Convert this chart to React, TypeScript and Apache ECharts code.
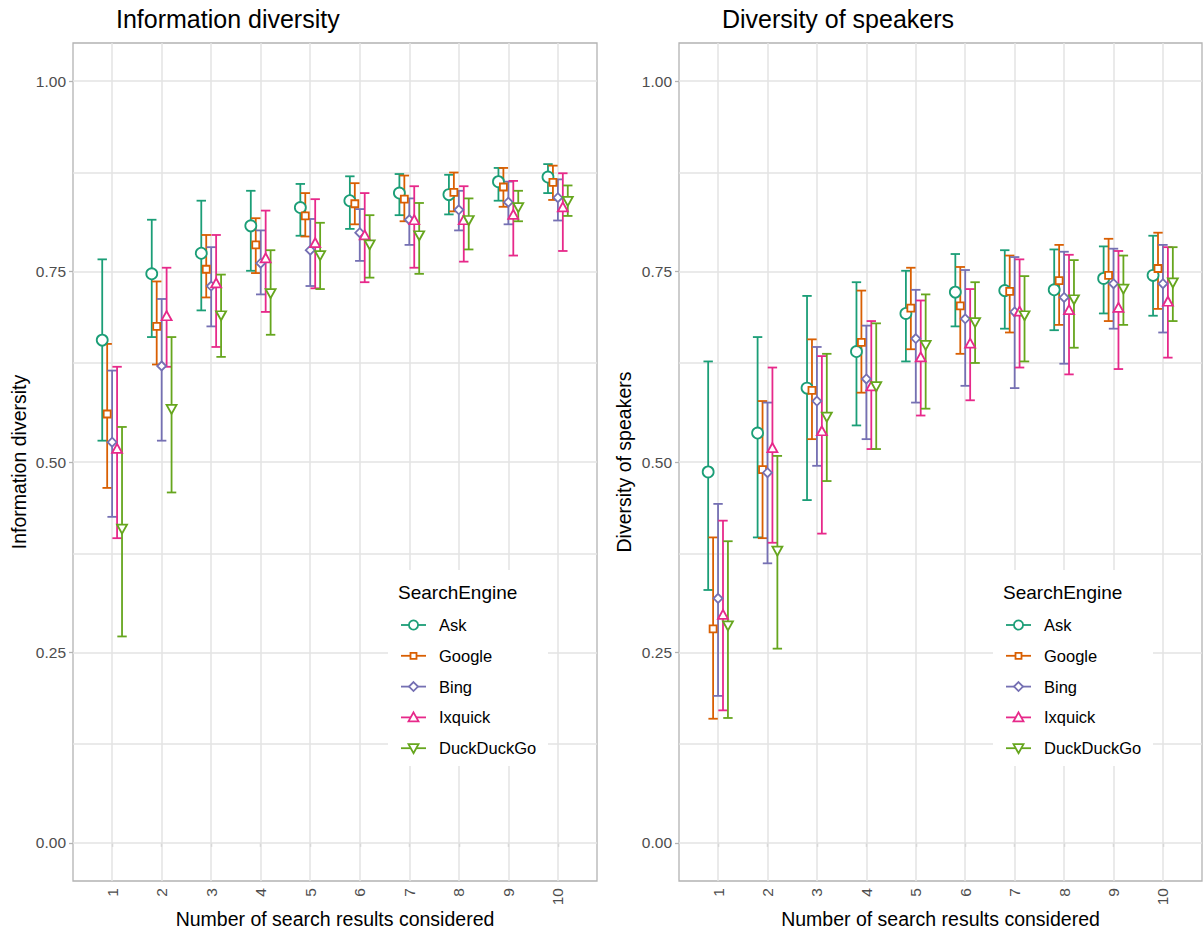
import React, { useEffect, useRef } from "react";
import * as echarts from "echarts";

// ---------- data ----------
const categories = [1, 2, 3, 4, 5, 6, 7, 8, 9, 10];
const engines = ["Ask", "Google", "Bing", "Ixquick", "DuckDuckGo"];
const engineColors = ["#1B9E77", "#D95F02", "#7570B3", "#E7298A", "#66A61E"];
const dodgeOffsets = [-0.2, -0.1, 0, 0.1, 0.2];
const yTicks = [0, 0.25, 0.5, 0.75, 1];
const yGridValues = [0, 0.125, 0.25, 0.375, 0.5, 0.625, 0.75, 0.875, 1];

const panelTitles = ["Information diversity", "Diversity of speakers"];
const xAxisTitle = "Number of search results considered";
const legendTitle = "SearchEngine";

// Information diversity
const infoAskMean = [0.660, 0.747, 0.774, 0.810, 0.834, 0.843, 0.853, 0.851, 0.868, 0.874];
const infoAskLow = [0.528, 0.664, 0.699, 0.751, 0.797, 0.806, 0.824, 0.825, 0.843, 0.853];
const infoAskHigh = [0.766, 0.818, 0.843, 0.856, 0.865, 0.875, 0.878, 0.877, 0.886, 0.891];

const infoGoogleMean = [0.563, 0.678, 0.753, 0.785, 0.823, 0.839, 0.845, 0.854, 0.861, 0.867];
const infoGoogleLow = [0.466, 0.628, 0.716, 0.748, 0.796, 0.812, 0.816, 0.829, 0.835, 0.844];
const infoGoogleHigh = [0.655, 0.737, 0.798, 0.820, 0.853, 0.866, 0.876, 0.880, 0.886, 0.889];

const infoBingMean = [0.526, 0.626, 0.731, 0.761, 0.778, 0.801, 0.818, 0.831, 0.841, 0.847];
const infoBingLow = [0.428, 0.528, 0.678, 0.720, 0.731, 0.764, 0.785, 0.804, 0.812, 0.817];
const infoBingHigh = [0.620, 0.714, 0.782, 0.804, 0.819, 0.832, 0.846, 0.856, 0.868, 0.871];

const infoIxquickMean = [0.518, 0.692, 0.735, 0.768, 0.788, 0.798, 0.818, 0.818, 0.825, 0.835];
const infoIxquickLow = [0.400, 0.625, 0.651, 0.697, 0.728, 0.736, 0.755, 0.763, 0.771, 0.777];
const infoIxquickHigh = [0.625, 0.755, 0.798, 0.830, 0.845, 0.853, 0.862, 0.862, 0.869, 0.879];

const infoDdgMean = [0.412, 0.569, 0.692, 0.721, 0.771, 0.785, 0.797, 0.817, 0.834, 0.842];
const infoDdgLow = [0.271, 0.460, 0.638, 0.667, 0.727, 0.742, 0.747, 0.779, 0.816, 0.823];
const infoDdgHigh = [0.546, 0.664, 0.746, 0.778, 0.814, 0.824, 0.840, 0.846, 0.856, 0.863];

// Diversity of speakers
const spkAskMean = [0.487, 0.538, 0.597, 0.645, 0.695, 0.723, 0.725, 0.726, 0.741, 0.745];
const spkAskLow = [0.332, 0.401, 0.450, 0.548, 0.632, 0.678, 0.675, 0.673, 0.695, 0.692];
const spkAskHigh = [0.632, 0.664, 0.718, 0.736, 0.751, 0.773, 0.778, 0.779, 0.783, 0.797];

const spkGoogleMean = [0.281, 0.490, 0.594, 0.657, 0.702, 0.705, 0.724, 0.738, 0.745, 0.754];
const spkGoogleLow = [0.163, 0.400, 0.530, 0.591, 0.648, 0.642, 0.670, 0.680, 0.685, 0.701];
const spkGoogleHigh = [0.401, 0.580, 0.661, 0.725, 0.755, 0.756, 0.771, 0.785, 0.793, 0.801];

const spkBingMean = [0.321, 0.486, 0.580, 0.609, 0.662, 0.688, 0.697, 0.716, 0.734, 0.734];
const spkBingLow = [0.193, 0.367, 0.495, 0.530, 0.578, 0.600, 0.597, 0.629, 0.675, 0.670];
const spkBingHigh = [0.445, 0.578, 0.651, 0.679, 0.726, 0.752, 0.769, 0.776, 0.780, 0.785];

const spkIxquickMean = [0.300, 0.519, 0.541, 0.600, 0.638, 0.656, 0.698, 0.700, 0.703, 0.711];
const spkIxquickLow = [0.174, 0.394, 0.406, 0.517, 0.561, 0.581, 0.624, 0.615, 0.622, 0.637];
const spkIxquickHigh = [0.423, 0.624, 0.639, 0.685, 0.712, 0.727, 0.766, 0.772, 0.777, 0.782];

const spkDdgMean = [0.285, 0.383, 0.559, 0.599, 0.653, 0.683, 0.692, 0.713, 0.727, 0.735];
const spkDdgLow = [0.164, 0.255, 0.475, 0.517, 0.570, 0.630, 0.632, 0.650, 0.680, 0.685];
const spkDdgHigh = [0.396, 0.508, 0.642, 0.682, 0.720, 0.736, 0.744, 0.765, 0.771, 0.782];

const panelData = [
  [
    [infoAskMean, infoAskLow, infoAskHigh],
    [infoGoogleMean, infoGoogleLow, infoGoogleHigh],
    [infoBingMean, infoBingLow, infoBingHigh],
    [infoIxquickMean, infoIxquickLow, infoIxquickHigh],
    [infoDdgMean, infoDdgLow, infoDdgHigh],
  ],
  [
    [spkAskMean, spkAskLow, spkAskHigh],
    [spkGoogleMean, spkGoogleLow, spkGoogleHigh],
    [spkBingMean, spkBingLow, spkBingHigh],
    [spkIxquickMean, spkIxquickLow, spkIxquickHigh],
    [spkDdgMean, spkDdgLow, spkDdgHigh],
  ],
];

// ---------- styles ----------
const FONT = "'Liberation Sans', Arial, Helvetica, sans-serif";
const gridBoxes = [
  { left: 73, top: 43, width: 524, height: 838 },
  { left: 679, top: 43, width: 523, height: 838 },
];
const symbols = ["circle", "rect", "diamond", "triangle", "triangle"];
const symbolSizes: any[] = [11, 7, 9, [10, 9], [10, 9]];
const symbolRotates = [0, 0, 0, 0, 180];
const titleX = [116, 722];
const yTitleX = [19, 624];
const legendBoxes = [
  { left: 388, top: 570 },
  { left: 993, top: 570 },
];

function legendMarker(i: number, cx: number, cy: number, color: string) {
  const style = { fill: "#fff", stroke: color, lineWidth: 1.8 };
  if (i === 0) return { type: "circle", z: 101, shape: { cx, cy, r: 4.6 }, style };
  if (i === 1) return { type: "rect", z: 101, shape: { x: cx - 3, y: cy - 3, width: 6, height: 6 }, style };
  if (i === 2)
    return {
      type: "polygon", z: 101,
      shape: { points: [[cx, cy - 4.5], [cx + 4.5, cy], [cx, cy + 4.5], [cx - 4.5, cy]] },
      style,
    };
  if (i === 3)
    return {
      type: "polygon", z: 101,
      shape: { points: [[cx, cy - 5], [cx + 5, cy + 4], [cx - 5, cy + 4]] },
      style,
    };
  return {
    type: "polygon", z: 101,
    shape: { points: [[cx, cy + 5], [cx + 5, cy - 4], [cx - 5, cy - 4]] },
    style,
  };
}

function buildLegend(p: number) {
  const box = legendBoxes[p];
  const children: any[] = [
    { type: "rect", z: 100, shape: { x: 0, y: 0, width: 160, height: 196 }, style: { fill: "#fff" } },
    {
      type: "text", z: 101, x: 10, y: 22,
      style: { text: legendTitle, fontSize: 19, fontFamily: FONT, fill: "#000", textVerticalAlign: "middle", verticalAlign: "middle" },
    },
  ];
  engines.forEach((name, i) => {
    const cy = 55 + i * 30.8;
    const color = engineColors[i];
    children.push({
      type: "line", z: 101, shape: { x1: 13, y1: cy, x2: 38, y2: cy },
      style: { stroke: color, lineWidth: 1.8 },
    });
    children.push(legendMarker(i, 25.5, cy, color));
    children.push({
      type: "text", z: 101, x: 51, y: cy,
      style: { text: name, fontSize: 16.5, fontFamily: FONT, fill: "#000", textVerticalAlign: "middle", verticalAlign: "middle" },
    });
  });
  return { type: "group", x: box.left, y: box.top, z: 100, children };
}

export default function App() {
  const ref = useRef<HTMLDivElement>(null);

  useEffect(() => {
    if (!ref.current) return;
    const chart = echarts.init(ref.current, null, { renderer: "svg" });

    const grids = gridBoxes.map((g) => ({
      ...g,
      show: true,
      borderColor: "#b3b3b3",
      borderWidth: 1.3,
      backgroundColor: "transparent",
      containLabel: false,
    }));

    const xAxes = [0, 1].map((p) => ({
      type: "value",
      gridIndex: p,
      min: 0.21,
      max: 10.79,
      splitLine: { show: false },
      axisLine: { show: false },
      axisTick: { show: true, customValues: categories, length: 4, lineStyle: { color: "#b3b3b3", width: 1.3 } },
      axisLabel: {
        customValues: categories,
        rotate: 90,
        margin: 7,
        color: "#4d4d4d",
        fontSize: 15.5,
        fontFamily: FONT,
        formatter: (v: number) => String(v),
      },
    }));

    const yAxes = [0, 1].map((p) => ({
      type: "value",
      gridIndex: p,
      min: -0.05,
      max: 1.05,
      splitLine: { show: false },
      axisLine: { show: false },
      axisTick: { show: true, customValues: yTicks, length: 4, lineStyle: { color: "#b3b3b3", width: 1.3 } },
      axisLabel: {
        customValues: yTicks,
        margin: 7,
        color: "#4d4d4d",
        fontSize: 15.5,
        fontFamily: FONT,
        formatter: (v: number) => v.toFixed(2),
      },
    }));

    const series: any[] = [];
    [0, 1].forEach((p) => {
      series.push({
        type: "line",
        xAxisIndex: p,
        yAxisIndex: p,
        data: [],
        z: 1,
        silent: true,
        markLine: {
          z: 1,
          silent: true,
          symbol: ["none", "none"],
          label: { show: false },
          emphasis: { disabled: true },
          animation: false,
          lineStyle: { color: "#e3e3e3", width: 1.5, type: "solid" },
          data: [
            ...yGridValues.map((v) => ({ yAxis: v })),
            ...categories.map((c) => ({ xAxis: c })),
          ],
        },
      });
      engines.forEach((name, e) => {
        const [mean, low, high] = panelData[p][e];
        const color = engineColors[e];
        series.push({
          type: "custom",
          name: name + "-err-" + p,
          xAxisIndex: p,
          yAxisIndex: p,
          z: 10,
          silent: true,
          encode: { x: 0, y: [1, 2] },
          data: categories.map((c, i) => [c + dodgeOffsets[e], low[i], high[i]]),
          renderItem: (params: any, api: any) => {
            const x = api.value(0);
            const lo = api.coord([x, api.value(1)]);
            const hi = api.coord([x, api.value(2)]);
            const hw = api.size([0.095, 0])[0];
            const style = { stroke: color, lineWidth: 1.8, fill: "none" };
            return {
              type: "group",
              children: [
                { type: "line", shape: { x1: lo[0], y1: lo[1], x2: hi[0], y2: hi[1] }, style },
                { type: "line", shape: { x1: lo[0] - hw, y1: lo[1], x2: lo[0] + hw, y2: lo[1] }, style },
                { type: "line", shape: { x1: hi[0] - hw, y1: hi[1], x2: hi[0] + hw, y2: hi[1] }, style },
              ],
            };
          },
        });
      });
      engines.forEach((name, e) => {
        const [mean] = panelData[p][e];
        const color = engineColors[e];
        series.push({
          type: "scatter",
          name: name + "-pt-" + p,
          xAxisIndex: p,
          yAxisIndex: p,
          z: 11,
          silent: true,
          symbol: symbols[e],
          symbolSize: symbolSizes[e],
          symbolRotate: symbolRotates[e],
          itemStyle: { color: "#fff", borderColor: color, borderWidth: 1.8, opacity: 1 },
          data: categories.map((c, i) => [c + dodgeOffsets[e], mean[i]]),
        });
      });
    });

    const graphics: any[] = [];
    [0, 1].forEach((p) => {
      const g = gridBoxes[p];
      graphics.push({
        type: "text", z: 100, x: titleX[p], y: 19,
        style: { text: panelTitles[p], fontSize: 25, fontFamily: FONT, fill: "#000", textVerticalAlign: "middle", verticalAlign: "middle" },
      });
      graphics.push({
        type: "text", z: 100, x: g.left + g.width / 2, y: 919,
        style: { text: xAxisTitle, fontSize: 19.5, fontFamily: FONT, fill: "#000", textAlign: "center", align: "center", textVerticalAlign: "middle", verticalAlign: "middle" },
      });
      graphics.push({
        type: "text", z: 100, x: yTitleX[p], y: g.top + g.height / 2, rotation: Math.PI / 2,
        style: { text: panelTitles[p], fontSize: 19.5, fontFamily: FONT, fill: "#000", textAlign: "center", align: "center", textVerticalAlign: "middle", verticalAlign: "middle" },
      });
      graphics.push(buildLegend(p));
    });

    chart.setOption({
      animation: false,
      backgroundColor: "#fff",
      grid: grids,
      xAxis: xAxes,
      yAxis: yAxes,
      series,
      graphic: graphics,
    });

    return () => chart.dispose();
  }, []);

  return (
    <div
      ref={ref}
      style={{ position: "absolute", left: 0, top: 0, width: 1203, height: 936 }}
    />
  );
}
